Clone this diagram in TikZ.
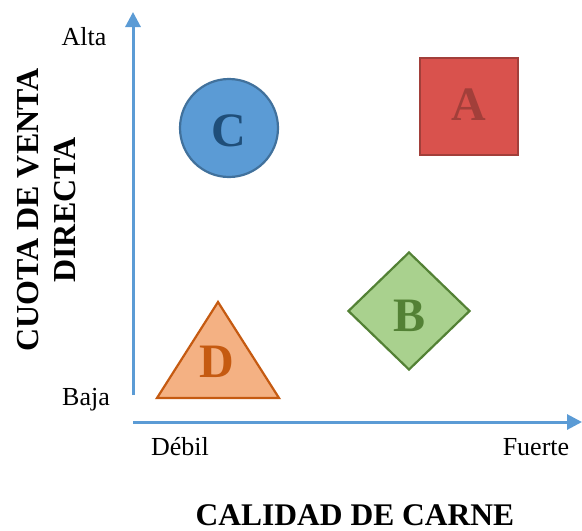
\documentclass[tikz,border=0pt]{standalone}
\usepackage{fontspec}
\setmainfont{Liberation Serif}
\usetikzlibrary{arrows.meta, shapes.geometric}
\definecolor{ejeazul}{HTML}{5B9BD5}
\definecolor{rojofill}{HTML}{D9524D}
\definecolor{rojoline}{HTML}{A23F3A}
\definecolor{azulline}{HTML}{41719C}
\definecolor{azultxt}{HTML}{1F4E79}
\definecolor{verdefill}{HTML}{A9D18E}
\definecolor{verdeline}{HTML}{538135}
\definecolor{naranjafill}{HTML}{F4B183}
\definecolor{naranjaline}{HTML}{C55A11}
\begin{document}
\begin{tikzpicture}[x=1pt, y=-1pt,
	eje/.style={draw=ejeazul, line width=3pt, -{Triangle[length=15pt, width=15pt]}},
	etiq/.style={font=\fontsize{26}{30}\selectfont},
	titulo/.style={font=\fontsize{31.5}{36}\selectfont\bfseries, align=center},
	letra/.style={font=\fontsize{48}{50}\selectfont\bfseries},
	forma/.style={line width=2.2pt, inner sep=0pt}]
	\useasboundingbox (0,0) rectangle (582,531);
	
	% 1. ejes
	\coordinate (ybase) at (133,395);
	\coordinate (ytope) at (133,12);
	\coordinate (xbase) at (133,422);
	\coordinate (xtope) at (582,422);
	\draw[eje] (ybase) -- (ytope);
	\draw[eje] (xbase) -- (xtope);
	
	% 2. etiquetas de los ejes
	\node[etiq] (alta) at (84,37) {Alta};
	\node[etiq] (baja) at (86,400) {Baja};
	\node[etiq] (debil) at (180,447) {Débil};
	\node[etiq] (fuerte) at (536,447) {Fuerte};
	\node[titulo] (ejex) at (355,515) {CALIDAD DE CARNE};
	\node[titulo, font=\fontsize{32}{37}\selectfont\bfseries, rotate=90] (ejey) at (47,210) {CUOTA DE VENTA\\DIRECTA};
	
	% 3. figuras
	\node[forma, rectangle, draw=rojoline, fill=rojofill, minimum width=98pt, minimum height=97pt] (formaA) at (469,106.5) {};
	\node[forma, circle, draw=azulline, fill=ejeazul, minimum size=98pt] (formaC) at (229,128) {};
	\node[forma, diamond, draw=verdeline, fill=verdefill, minimum width=122pt, minimum height=118pt] (formaB) at (409,311) {};
	\draw[forma, draw=naranjaline, fill=naranjafill] (218,302) -- (279,398) -- (157,398) -- cycle;
	
	% 4. letras
	\node[letra, text=rojoline] (letraA) at (469,105) {A};
	\node[letra, text=azultxt] (letraC) at (229,131) {C};
	\node[letra, text=verdeline] (letraB) at (410,316) {B};
	\node[letra, text=naranjaline] (letraD) at (217,362) {D};
\end{tikzpicture}
\end{document}
